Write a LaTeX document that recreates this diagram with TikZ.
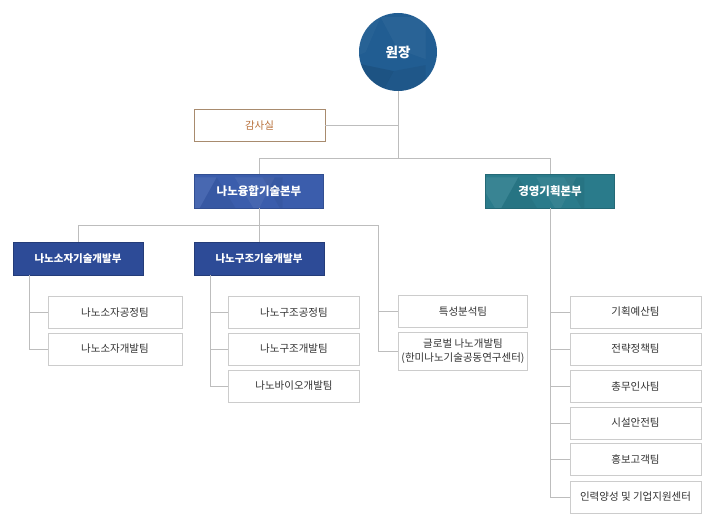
\documentclass[tikz,border=0pt]{standalone}
\usepackage{fontspec}
\setmainfont{Noto Sans CJK KR}
\definecolor{linec}{HTML}{BDBDBD}
\definecolor{teamborder}{HTML}{CCCCCC}
\definecolor{teamtext}{HTML}{333333}
\definecolor{rootc}{HTML}{215D92}
\definecolor{nanoc}{HTML}{3B5DAC}
\definecolor{mgmtc}{HTML}{2A7B8B}
\definecolor{subc}{HTML}{2D4B97}
\definecolor{auditb}{HTML}{A88B6E}
\definecolor{auditt}{HTML}{B8703A}
\begin{document}
\begin{tikzpicture}[x=1pt,y=-1pt,
  conn/.style={draw=linec,line width=0.8pt},
  team/.style={draw=teamborder,fill=white,line width=0.8pt,minimum width=131,minimum height=32,inner sep=0pt,
    font=\fontsize{10.5}{13.5}\selectfont,text=teamtext,align=center},
  hqbox/.style={minimum width=129,minimum height=34,inner sep=0pt,text=white,
    font=\fontsize{11.5}{14}\selectfont\bfseries},
  subbox/.style={fill=subc,draw=subc!80!black,line width=0.5pt,minimum width=130,minimum height=33,inner sep=0pt,text=white,
    font=\fontsize{10.5}{13}\selectfont\bfseries},
  polybox/.style={path picture={
    \begin{scope}[shift={(path picture bounding box.center)}]
      \fill[white,opacity=.05] (-66,-18) -- (-30,18) -- (-66,18) -- cycle;
      \fill[white,opacity=.07] (-42,-18) -- (0,-18) -- (-20,18) -- cycle;
      \fill[black,opacity=.05] (0,-18) -- (22,18) -- (-20,18) -- cycle;
      \fill[white,opacity=.06] (18,-18) -- (58,-18) -- (40,18) -- cycle;
      \fill[black,opacity=.05] (46,-18) -- (66,-18) -- (66,18) -- cycle;
    \end{scope}}},
  rootpoly/.style={path picture={
    \begin{scope}[shift={(path picture bounding box.center)}]
      \fill[black,opacity=.10] (-40,4) -- (8,14) -- (-6,40) -- (-40,40) -- cycle;
      \fill[white,opacity=.04] (-5,-40) -- (40,-40) -- (40,2) -- (12,-8) -- cycle;
      \fill[black,opacity=.06] (8,14) -- (40,8) -- (40,40) -- (-6,40) -- cycle;
      \fill[white,opacity=.03] (-40,-40) -- (-5,-40) -- (-20,-5) -- (-40,4) -- cycle;
    \end{scope}}}
]
\useasboundingbox[fill=white] (0,0) rectangle (720,532);

% level 0
\node[circle,fill=rootc,minimum size=78,inner sep=0pt,rootpoly,text=white,
  font=\fontsize{13.5}{15}\selectfont\bfseries] (root) at (398,52) {원장};
\node[draw=auditb,fill=white,line width=0.8pt,minimum width=131,minimum height=32,inner sep=0pt,
  text=auditt,font=\fontsize{10.5}{13}\selectfont] (audit) at (259.5,125.5) {감사실};

% level 1
\node[hqbox,fill=nanoc,draw=nanoc!85!black,line width=0.5pt,polybox] (nano) at (259,191) {나노융합기술본부};
\node[hqbox,fill=mgmtc,draw=mgmtc!85!black,line width=0.5pt,polybox] (mgmt) at (550,191) {경영기획본부};

% level 2
\node[subbox] (soja) at (78,258.5) {나노소자기술개발부};
\node[subbox] (gujo) at (259,258.5) {나노구조기술개발부};

% teams
\node[team,minimum width=134] (s1) at (115,312.5) {나노소자공정팀};
\node[team,minimum width=134] (s2) at (115,349) {나노소자개발팀};

\node[team] (g1) at (294,312.5) {나노구조공정팀};
\node[team] (g2) at (294,349) {나노구조개발팀};
\node[team] (g3) at (294,386) {나노바이오개발팀};

\node[team,minimum width=129] (c1) at (463,311.5) {특성분석팀};
\node[team,minimum width=129,minimum height=38] (c2) at (463,351) {글로벌 나노개발팀\\(한미나노기술공동연구센터)};

\node[team] (m1) at (635.5,312) {기획예산팀};
\node[team] (m2) at (635.5,349) {전략정책팀};
\node[team] (m3) at (635.5,386.5) {총무인사팀};
\node[team] (m4) at (635.5,423) {시설안전팀};
\node[team] (m5) at (635.5,459.5) {홍보고객팀};
\node[team] (m6) at (635.5,497) {인력양성 및 기업지원센터};

% coordinates
\coordinate (barL) at (259,158);
\coordinate (barR) at (550,158);
\coordinate (bar2L) at (78,225);
\coordinate (bar2R) at (378,225);

% connectors
\draw[conn] (root.south) -- (root|-barL);
\draw[conn] (audit.east) -- (audit.east-|root);
\draw[conn] (nano.north) -- (barL) -- (barR) -- (mgmt.north);

\draw[conn] (nano.south) -- (nano|-bar2L);
\draw[conn] (soja.north) -- (bar2L) -- (bar2R) -- (bar2R|-c2.west) -- (c2.west);
\draw[conn] (gujo.north) -- (gujo|-bar2L);
\draw[conn] (bar2R|-c1.west) -- (c1.west);

\draw[conn] ([xshift=17]soja.south west) |- (s2.west);
\draw[conn] ([xshift=17]soja.south west|-s1.west) -- (s1.west);

\draw[conn] ([xshift=17]gujo.south west) |- (g3.west);
\draw[conn] ([xshift=17]gujo.south west|-g1.west) -- (g1.west);
\draw[conn] ([xshift=17]gujo.south west|-g2.west) -- (g2.west);

\draw[conn] (mgmt.south) |- (m6.west);
\foreach \t in {m1,m2,m3,m4,m5}{
  \draw[conn] (mgmt.south|-\t.west) -- (\t.west);
}
\end{tikzpicture}
\end{document}
